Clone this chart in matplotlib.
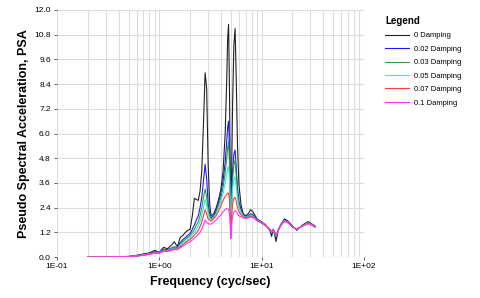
import matplotlib
matplotlib.use("Agg")
import matplotlib.pyplot as plt
from matplotlib.ticker import FixedLocator, LogLocator, NullFormatter

plt.rcParams['font.family'] = ['Liberation Sans', 'DejaVu Sans']

freq = [0.2, 0.3, 0.4, 0.5, 0.6, 0.7, 0.8, 0.9, 1.0, 1.1, 1.2, 1.3, 1.4, 1.5, 1.6, 1.7, 1.8, 1.9,
        2.0, 2.1, 2.2, 2.3, 2.4, 2.5, 2.6, 2.7, 2.8, 2.9, 3.0, 3.1, 3.2, 3.4, 3.6, 3.8, 4.0, 4.2,
        4.4, 4.55, 4.65, 4.75, 4.85, 4.95, 5.0, 5.1, 5.2, 5.35, 5.5, 5.65, 5.8, 6.0, 6.3, 6.6,
        7.0, 7.4, 7.8, 8.2, 9.0, 10.0, 11.0, 12.0, 12.5, 13.0, 13.5, 13.8, 14.5, 15.5, 16.7,
        18.0, 20.0, 22.0, 25.0, 28.5, 31.0, 33.3]

psa_d000 = [0.0, 0.0, 0.01, 0.03, 0.08, 0.15, 0.2, 0.32, 0.22, 0.47, 0.4, 0.55, 0.74, 0.5, 0.95, 1.05, 1.2, 1.3,
            1.35, 2.0, 2.85, 2.8, 2.75, 3.2, 4.2, 6.5, 8.95, 8.2, 4.5, 2.6, 2.0, 2.1, 2.4, 2.8, 3.3, 4.2,
            6.0, 8.5, 10.6, 11.3, 8.0, 3.0, 1.4, 4.5, 7.5, 10.3, 11.1, 8.5, 5.5, 3.5, 2.5, 2.1,
            2.0, 2.1, 2.3, 2.2, 1.85, 1.7, 1.55, 1.3, 1.0, 1.35, 1.0, 0.75, 1.3, 1.6, 1.85,
            1.75, 1.5, 1.3, 1.55, 1.72, 1.6, 1.5]
psa_d002 = [0.0, 0.0, 0.01, 0.02, 0.06, 0.12, 0.17, 0.25, 0.22, 0.38, 0.35, 0.42, 0.5, 0.45, 0.7, 0.85, 0.95, 1.05,
            1.15, 1.35, 1.55, 1.8, 2.0, 2.4, 2.9, 3.7, 4.5, 3.8, 2.6, 2.1, 1.9, 2.0, 2.3, 2.7, 3.1, 3.7,
            4.6, 5.6, 6.3, 6.6, 5.2, 2.5, 1.3, 3.0, 4.2, 5.0, 5.2, 4.3, 3.4, 2.7, 2.3, 2.05,
            1.95, 2.0, 2.1, 2.05, 1.82, 1.68, 1.52, 1.32, 1.15, 1.35, 1.1, 0.95, 1.3, 1.6, 1.8,
            1.72, 1.48, 1.32, 1.52, 1.68, 1.58, 1.48]
psa_d003 = [0.0, 0.0, 0.01, 0.02, 0.05, 0.11, 0.16, 0.23, 0.21, 0.35, 0.33, 0.4, 0.47, 0.43, 0.62, 0.76, 0.86, 0.95,
            1.05, 1.2, 1.35, 1.55, 1.7, 2.0, 2.4, 2.9, 3.3, 2.9, 2.3, 2.0, 1.85, 1.95, 2.2, 2.55, 2.9, 3.4,
            4.1, 4.8, 5.3, 5.6, 4.5, 2.3, 1.5, 2.8, 3.8, 4.5, 4.7, 3.9, 3.1, 2.5, 2.2, 2.02,
            1.93, 1.98, 2.05, 2.0, 1.8, 1.67, 1.52, 1.33, 1.18, 1.35, 1.12, 1.0, 1.3, 1.6, 1.78,
            1.7, 1.47, 1.33, 1.52, 1.66, 1.57, 1.47]
psa_d005 = [0.0, 0.0, 0.01, 0.02, 0.05, 0.1, 0.15, 0.21, 0.2, 0.32, 0.31, 0.37, 0.43, 0.41, 0.56, 0.68, 0.77, 0.86,
            0.95, 1.08, 1.2, 1.35, 1.5, 1.72, 2.0, 2.4, 2.8, 2.5, 2.1, 1.9, 1.8, 1.9, 2.1, 2.4, 2.7, 3.1,
            3.6, 4.0, 4.3, 4.4, 3.8, 2.2, 1.4, 2.5, 3.3, 3.8, 3.9, 3.4, 2.8, 2.4, 2.15, 2.0,
            1.92, 1.96, 2.02, 1.98, 1.79, 1.66, 1.52, 1.34, 1.2, 1.34, 1.14, 1.03, 1.3, 1.58, 1.76,
            1.69, 1.47, 1.34, 1.51, 1.65, 1.56, 1.46]
psa_d007 = [0.0, 0.0, 0.01, 0.02, 0.05, 0.09, 0.14, 0.2, 0.19, 0.3, 0.29, 0.34, 0.4, 0.38, 0.5, 0.6, 0.7, 0.78,
            0.86, 0.96, 1.06, 1.18, 1.3, 1.48, 1.7, 2.0, 2.3, 2.1, 1.85, 1.8, 1.75, 1.85, 2.0, 2.25, 2.5, 2.75,
            2.95, 3.05, 3.1, 3.1, 2.8, 1.8, 1.1, 2.0, 2.6, 2.85, 2.9, 2.7, 2.4, 2.2, 2.05, 1.96,
            1.9, 1.93, 1.98, 1.95, 1.78, 1.65, 1.52, 1.35, 1.22, 1.33, 1.16, 1.06, 1.3, 1.56, 1.74,
            1.68, 1.46, 1.35, 1.5, 1.63, 1.55, 1.45]
psa_d010 = [0.0, 0.0, 0.01, 0.02, 0.04, 0.08, 0.12, 0.18, 0.18, 0.27, 0.27, 0.31, 0.36, 0.36, 0.45, 0.53, 0.61, 0.68,
            0.74, 0.82, 0.92, 1.0, 1.1, 1.2, 1.35, 1.55, 1.8, 1.7, 1.62, 1.6, 1.6, 1.7, 1.8, 1.95, 2.05, 2.2,
            2.3, 2.35, 2.35, 2.3, 2.1, 1.4, 0.9, 1.6, 2.0, 2.2, 2.25, 2.2, 2.1, 2.0, 1.95, 1.9,
            1.87, 1.9, 1.94, 1.92, 1.77, 1.64, 1.52, 1.36, 1.24, 1.32, 1.18, 1.09, 1.3, 1.54, 1.72,
            1.67, 1.45, 1.36, 1.49, 1.62, 1.54, 1.44]

labels = ['0 Damping', '0.02 Damping', '0.03 Damping', '0.05 Damping', '0.07 Damping', '0.1 Damping']
colors = ['#222222', '#1a1aff', '#2ca02c', '#33e6e6', '#ff3b3b', '#ff33ff']
series = [psa_d000, psa_d002, psa_d003, psa_d005, psa_d007, psa_d010]

yticks = [0.0, 1.2, 2.4, 3.6, 4.8, 6.0, 7.2, 8.4, 9.6, 10.8, 12.0]
xticks = [0.1, 1.0, 10.0, 100.0]
xticklabels = ['1E-01', '1E+00', '1E+01', '1E+02']

fig = plt.figure(figsize=(4.8, 2.98), dpi=100)
ax = fig.add_axes([57 / 480, 1 - 257 / 298, (364 - 57) / 480, (257 - 10) / 298])

for vals, c, lab in zip(series, colors, labels):
    ax.plot(freq, vals, color=c, lw=0.8, label=lab)

ax.set_xscale('log')
ax.set_xlim(0.1, 100)
ax.set_ylim(0, 12)
ax.xaxis.set_major_locator(FixedLocator(xticks))
ax.set_xticklabels(xticklabels)
ax.xaxis.set_minor_locator(LogLocator(base=10, subs=range(2, 10)))
ax.xaxis.set_minor_formatter(NullFormatter())
ax.set_yticks(yticks)
ax.set_yticklabels([f'{v:.1f}' for v in yticks])
ax.grid(True, which='major', color='#dddddd', lw=0.8)
ax.grid(True, which='minor', axis='x', color='#dddddd', lw=0.8)
ax.set_axisbelow(True)
for s in ax.spines.values():
    s.set_visible(False)
ax.tick_params(axis='both', which='major', labelsize=6, length=2.5, width=0.6, color='#444444', pad=2)
ax.tick_params(axis='x', which='minor', length=0)

ax.set_xlabel('Frequency (cyc/sec)', fontsize=9, fontweight='bold', labelpad=4)
ax.set_ylabel('Pseudo Spectral Acceleration, PSA', fontsize=9, fontweight='bold', labelpad=3)

leg = fig.legend(loc='upper left', bbox_to_anchor=(378 / 480, 1 - 9 / 298), frameon=False,
                 title='Legend', fontsize=5.5, handlelength=3.2, handletextpad=0.6,
                 labelspacing=0.8, alignment='left')
leg.get_title().set_fontweight('bold')
leg.get_title().set_fontsize(7)

fig.savefig('out.png', dpi=100)
